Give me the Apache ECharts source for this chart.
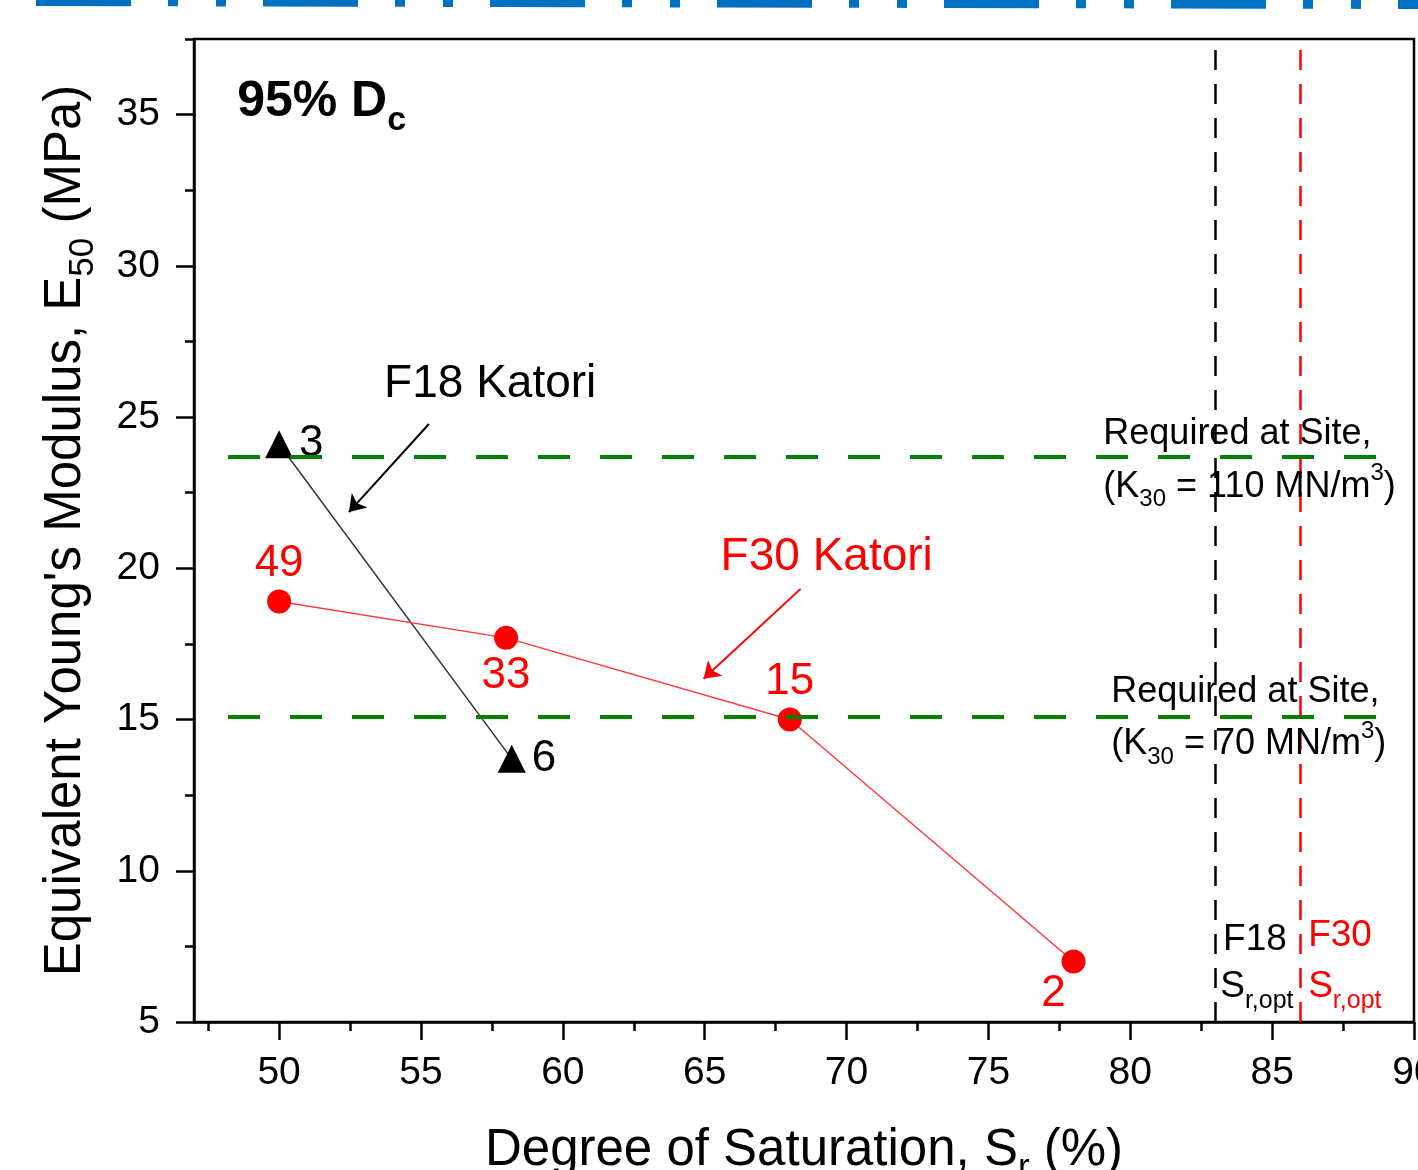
<!DOCTYPE html>
<html>
<head>
<meta charset="utf-8">
<script src="https://cdn.jsdelivr.net/npm/echarts@6/dist/echarts.min.js"></script>
<style>
html,body{margin:0;padding:0;background:#fff;}
#main{width:1418px;height:1170px;}
</style>
</head>
<body>
<div id="main"></div>
<script>
// ---- data ----
const xTicks = [50, 55, 60, 65, 70, 75, 80, 85, 90];
const xMinorTicks = [47.5, 52.5, 57.5, 62.5, 67.5, 72.5, 77.5, 82.5, 87.5];
const yTicks = [5, 10, 15, 20, 25, 30, 35];
const yMinorTicks = [7.5, 12.5, 17.5, 22.5, 27.5, 32.5, 37.5];

const f18Sr = [50, 58.2];
const f18E = [24.1, 13.7];
const f18Labels = ['3', '6'];

const f30Sr = [50, 58, 68, 78];
const f30E = [18.9, 17.7, 15.0, 7.0];
const f30Labels = ['49', '33', '15', '2'];

const requiredE = [23.7, 15.1];
const requiredK = ['110', '70'];

const srOptF18 = 83.0;
const srOptF30 = 86.0;

// ---- style ----
const FONT = '"Liberation Sans", Arial, Helvetica, sans-serif';
const BLACK = '#000000';
const RED = '#ff0000';
const GREEN = '#008000';

const f18Data = f18Sr.map((x, i) => ({
  value: [x, f18E[i]],
  label: { formatter: f18Labels[i] }
}));
const f30Pos = ['top', 'bottom', 'top', 'bottom'];
const f30Data = f30Sr.map((x, i) => {
  const d = { value: [x, f30E[i]], label: { formatter: f30Labels[i], position: f30Pos[i] } };
  if (i === 3) { d.label.offset = [-20, -6]; }
  return d;
});

const option = {
  animation: false,
  backgroundColor: '#ffffff',
  textStyle: { fontFamily: FONT },
  grid: {
    left: 194, top: 39, right: 4, bottom: 148,
    containLabel: false, outerBoundsMode: 'none',
    show: true, borderColor: BLACK, borderWidth: 2.5, backgroundColor: 'transparent'
  },
  xAxis: [
    {
      type: 'value', min: 47, max: 90,
      name: '{n|Degree of Saturation, S}{s|r}{n| (%)}',
      nameLocation: 'middle', nameGap: 94,
      nameTextStyle: {
        color: BLACK, fontFamily: FONT,
        rich: {
          n: { fontSize: 51, lineHeight: 70, fontFamily: FONT, color: BLACK },
          s: { fontSize: 35, lineHeight: 30, verticalAlign: 'bottom', fontFamily: FONT, color: BLACK }
        }
      },
      axisLine: { show: true, onZero: false, lineStyle: { color: BLACK, width: 2.5 } },
      axisTick: { show: true, inside: false, length: 18, lineStyle: { color: BLACK, width: 2.5 }, customValues: xTicks },
      axisLabel: { show: true, margin: 32, fontSize: 39, color: BLACK, fontFamily: FONT, customValues: xTicks },
      splitLine: { show: false }
    },
    {
      type: 'value', min: 47, max: 90, position: 'bottom',
      axisLine: { show: false, onZero: false },
      axisTick: { show: true, inside: false, length: 9, lineStyle: { color: BLACK, width: 2.5 }, customValues: xMinorTicks },
      axisLabel: { show: false },
      splitLine: { show: false }
    }
  ],
  yAxis: [
    {
      type: 'value', min: 5, max: 37.5,
      name: "{n|Equivalent Young's Modulus, E}{s|50}{n| (MPa)}",
      nameLocation: 'middle', nameGap: 93, nameRotate: 90,
      nameTextStyle: {
        color: BLACK, fontFamily: FONT,
        rich: {
          n: { fontSize: 51, lineHeight: 70, fontFamily: FONT, color: BLACK },
          s: { fontSize: 35, lineHeight: 30, verticalAlign: 'bottom', fontFamily: FONT, color: BLACK }
        }
      },
      axisLine: { show: true, onZero: false, lineStyle: { color: BLACK, width: 2.5 } },
      axisTick: { show: true, inside: false, length: 18, lineStyle: { color: BLACK, width: 2.5 }, customValues: yTicks },
      axisLabel: { show: true, margin: 34, fontSize: 39, color: BLACK, fontFamily: FONT, customValues: yTicks },
      splitLine: { show: false }
    },
    {
      type: 'value', min: 5, max: 37.5, position: 'left',
      axisLine: { show: false, onZero: false },
      axisTick: { show: true, inside: false, length: 9, lineStyle: { color: BLACK, width: 2.5 }, customValues: yMinorTicks },
      axisLabel: { show: false },
      splitLine: { show: false }
    }
  ],
  series: [
    {
      name: 'Reference lines',
      type: 'line',
      data: [],
      silent: true,
      markLine: {
        silent: true,
        symbol: ['none', 'none'],
        label: { show: false },
        data: [
          [{ coord: [48.2, requiredE[0]], lineStyle: { color: GREEN, width: 4, type: [32, 30] } },
           { coord: [89.7, requiredE[0]] }],
          [{ coord: [48.2, requiredE[1]], lineStyle: { color: GREEN, width: 4, type: [32, 30] } },
           { coord: [89.7, requiredE[1]] }],
          { xAxis: srOptF18, lineStyle: { color: BLACK, width: 2.5, type: [20, 14] } },
          { xAxis: srOptF30, lineStyle: { color: RED, width: 2.5, type: [20, 14] } }
        ]
      }
    },
    {
      name: 'F18 Katori',
      type: 'line',
      data: f18Data,
      symbol: 'triangle',
      symbolSize: 28,
      itemStyle: { color: BLACK },
      lineStyle: { color: '#333333', width: 1.5 },
      label: { show: true, position: 'right', distance: 6, fontSize: 44, color: BLACK, fontFamily: FONT },
      markLine: {
        silent: true,
        symbol: ['none', 'arrow'],
        symbolSize: 16,
        label: { show: false },
        lineStyle: { color: BLACK, width: 2, type: 'solid' },
        data: [[{ coord: [55.28, 24.77] }, { coord: [52.46, 21.86] }]]
      },
      z: 3
    },
    {
      name: 'F30 Katori',
      type: 'line',
      data: f30Data,
      symbol: 'circle',
      symbolSize: 24,
      itemStyle: { color: RED },
      lineStyle: { color: '#ff3b3b', width: 1.5 },
      label: { show: true, distance: 4, fontSize: 44, color: RED, fontFamily: FONT },
      markLine: {
        silent: true,
        symbol: ['none', 'arrow'],
        symbolSize: 16,
        label: { show: false },
        lineStyle: { color: RED, width: 2, type: 'solid' },
        data: [[{ coord: [68.38, 19.32] }, { coord: [64.96, 16.35] }]]
      },
      z: 3
    }
  ]
};

const chart = echarts.init(document.getElementById('main'), null, { renderer: 'canvas' });
chart.setOption(option);

function px(x, y) { return chart.convertToPixel({ seriesIndex: 1 }, [x, y]); }

function txt(x, y, text, opts) {
  const p = px(x, y);
  return {
    type: 'text', x: p[0], y: p[1], z: 50,
    style: Object.assign({
      text: text,
      fill: BLACK,
      fontFamily: FONT,
      fontSize: 36,
      align: 'left',
      verticalAlign: 'middle'
    }, opts || {})
  };
}

const subRich = (size, color) => ({
  n: { fontSize: size, lineHeight: Math.round(size * 1.4), fontFamily: FONT, fill: color, color: color },
  b: { fontSize: size, lineHeight: Math.round(size * 1.4), fontFamily: FONT, fontWeight: 'bold', fill: color, color: color },
  s: { fontSize: Math.round(size * 0.68), lineHeight: Math.round(size * 0.62), verticalAlign: 'bottom', fontFamily: FONT, fill: color, color: color },
  bs: { fontSize: Math.round(size * 0.68), lineHeight: Math.round(size * 0.5), verticalAlign: 'bottom', fontFamily: FONT, fontWeight: 'bold', fill: color, color: color },
  p: { fontSize: Math.round(size * 0.68), lineHeight: Math.round(size * 0.62), verticalAlign: 'top', fontFamily: FONT, fill: color, color: color }
});

const graphics = [
  // blue dash-dot-dot strip at the very top
  {
    type: 'line', z: 50,
    shape: { x1: 36, y1: 0, x2: 1418, y2: 3 },
    style: { stroke: '#0070C0', lineWidth: 12, lineDash: [95, 37, 10, 38, 10, 37] }
  },
  txt(48.52, 35.4, '{b|95% D}{bs|c}', { rich: subRich(50, BLACK) }),
  txt(53.7, 26.09, 'F18 Katori', { fontSize: 46, fill: BLACK }),
  txt(65.56, 20.38, 'F30 Katori', { fontSize: 46, fill: RED }),
  txt(79.05, 24.44, 'Required at Site,', { fontSize: 36 }),
  txt(79.05, 22.70, '{n|(K}{s|30}{n| = ' + requiredK[0] + ' MN/m}{p|3}{n|)}', { rich: subRich(36, BLACK) }),
  txt(79.33, 15.92, 'Required at Site,', { fontSize: 36 }),
  txt(79.33, 14.18, '{n|(K}{s|30}{n| = ' + requiredK[1] + ' MN/m}{p|3}{n|)}', { rich: subRich(36, BLACK) }),
  txt(83.27, 7.71, 'F18', { fontSize: 37, fill: BLACK }),
  txt(83.17, 6.15, '{n|S}{s|r,opt}', { rich: subRich(37, BLACK) }),
  txt(86.27, 7.84, 'F30', { fontSize: 37, fill: RED }),
  txt(86.27, 6.15, '{n|S}{s|r,opt}', { rich: subRich(37, RED) })
];

chart.setOption({ graphic: graphics });
</script>
</body>
</html>
